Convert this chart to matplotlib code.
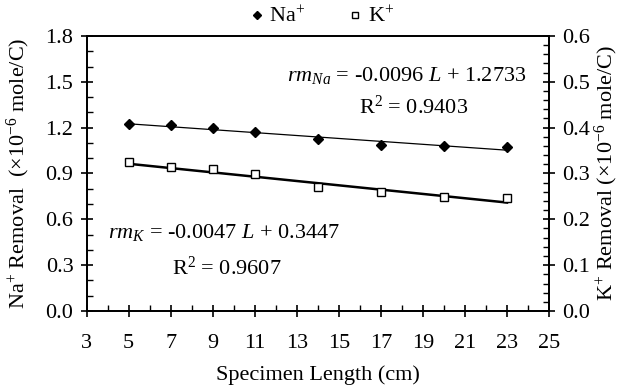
import matplotlib
matplotlib.use("Agg")
import matplotlib.pyplot as plt
import numpy as np
from matplotlib.ticker import MultipleLocator

plt.rcParams['font.family'] = ['Liberation Serif', 'DejaVu Serif']
plt.rcParams['mathtext.fontset'] = 'custom'
plt.rcParams['mathtext.rm'] = 'Liberation Serif'
plt.rcParams['mathtext.it'] = 'Liberation Serif:italic'
plt.rcParams['font.size'] = 16

# specimen length (cm)
length = [5, 7, 9, 11, 14, 17, 20, 23]
# removal (x10^-6 mole/C)
na_removal = [1.222, 1.217, 1.196, 1.169, 1.126, 1.086, 1.082, 1.073]
k_removal = [0.324, 0.315, 0.309, 0.299, 0.271, 0.259, 0.249, 0.246]
# linear fits shown on the chart
na_slope, na_icpt, na_r2 = -0.0096, 1.2733, 0.9403
k_slope, k_icpt, k_r2 = -0.0047, 0.3447, 0.9607
x_ticks = [3, 5, 7, 9, 11, 13, 15, 17, 19, 21, 23, 25]

fig = plt.figure(figsize=(6.37, 3.89), dpi=100)
ax = fig.add_axes([0.136, 0.2005, 0.726, 0.707])
ax2 = ax.twinx()

L = np.array([length[0], length[-1]])
ax.plot(L, na_slope * L + na_icpt, color='black', lw=0.9, zorder=2)
ln1, = ax.plot(length, na_removal, 'D', color='black', ms=5.5, ls='none',
               label='Na$^{+}$', zorder=3)
ax2.plot(L, k_slope * L + k_icpt, color='black', lw=1.8, zorder=2)
ln2, = ax2.plot(length, k_removal, 's', mfc='white', mec='black', mew=1.0,
                ms=5.5, ls='none', label='K$^{+}$', zorder=3)

ax.set_xlim(3, 25)
ax.set_ylim(0, 1.8)
ax2.set_ylim(0, 0.6)
ax.set_xticks(x_ticks)
ax.xaxis.set_minor_locator(MultipleLocator(1))
ax.yaxis.set_major_locator(MultipleLocator(0.3))
ax.yaxis.set_minor_locator(MultipleLocator(0.1))
ax2.yaxis.set_major_locator(MultipleLocator(0.1))
ax2.yaxis.set_minor_locator(MultipleLocator(0.02))
ax.yaxis.set_major_formatter(plt.FormatStrFormatter('%.1f'))
ax2.yaxis.set_major_formatter(plt.FormatStrFormatter('%.1f'))

for a in (ax, ax2):
    for s in a.spines.values():
        s.set_linewidth(1.3)
ax.tick_params(which='major', direction='inout', length=9, width=1.2, top=False)
ax.tick_params(which='minor', direction='in', length=4.5, width=1.0, top=False)
ax.tick_params(axis='x', which='major', pad=12)
ax.tick_params(axis='y', which='major', pad=5)
ax2.tick_params(which='major', direction='inout', length=9, width=1.2, pad=5)
ax2.tick_params(which='minor', direction='in', length=4.5, width=1.0)

ax.set_xlabel('Specimen Length (cm)', labelpad=9)
ax.set_ylabel('Na$^{+}$ Removal  (×10$^{-6}$ mole/C)')
ax2.set_ylabel('K$^{+}$ Removal (×10$^{-6}$ mole/C)')
ax.yaxis.set_label_coords(-0.119, 0.5)
ax2.yaxis.set_label_coords(1.094, 0.5)

ax.text(0.952, 0.858, '$rm_{Na}$ = %.4f $L$ + %.4f' % (na_slope, na_icpt),
        transform=ax.transAxes, ha='right', va='center')
ax.text(0.706, 0.742, 'R$^{2}$ = %.4f' % na_r2, transform=ax.transAxes,
        ha='center', va='center')
ax.text(0.046, 0.284, '$rm_{K}$ = %.4f $L$ + %.4f' % (k_slope, k_icpt),
        transform=ax.transAxes, ha='left', va='center')
ax.text(0.303, 0.156, 'R$^{2}$ = %.4f' % k_r2, transform=ax.transAxes,
        ha='center', va='center')

ax.legend(handles=[ln1, ln2], loc='center', bbox_to_anchor=(0.509, 1.07),
          ncol=2, frameon=False, handlelength=0.6, handletextpad=0.25,
          columnspacing=1.95, markerscale=0.8, borderpad=0)

fig.savefig('out.png', dpi=100)
